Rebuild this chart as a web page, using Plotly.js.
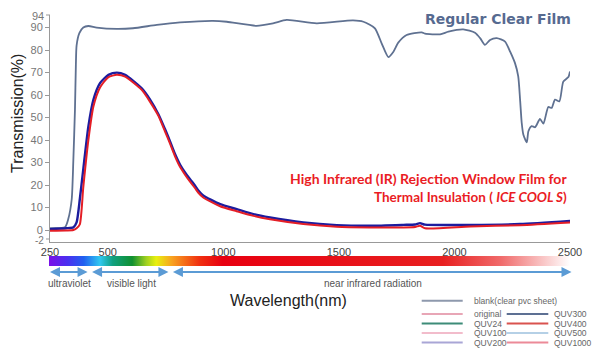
<!DOCTYPE html>
<html><head><meta charset="utf-8">
<script src="https://cdn.plot.ly/plotly-3.0.1.min.js"></script>
<style>html,body{margin:0;padding:0;background:#fff;}#chart{width:600px;height:356px;}</style>
</head><body><div id="chart"></div>
<script>
// ---- data ----
const blankNm = [250,315,329,344,351,358,362,365,377,394,416,452,539,609,712,813,955,1015,1144,1215,1274,1404,1561,1606,1656,1685,1714,1736,1757,1793,1858,1873,1938,1974,2038,2089,2111,2132,2154,2183,2219,2241,2262,2276,2284,2291,2298,2313,2320,2334,2349,2370,2385,2406,2421,2435,2454,2471,2493,2500];
const blankT = [0.9,1.3,4.9,13.7,31,53.5,73.5,82,87.5,90,90.7,90,89.4,89.7,91.2,92.3,93,92.6,90.8,91.9,93.4,91.9,93.2,92.6,89.7,83,76.9,79.3,83.3,86.7,87.9,87.3,87,88.2,89.2,87.7,85.3,82.3,84.5,85.3,83.8,79.3,74.2,68.3,58,47.7,42.5,39,43.9,46.2,45.7,49.4,47.3,54.7,54.3,58,57.2,66,68,70.5];

const filmNm = [250,320,351,365,379,394,416,438,467,503,539,575,647,683,719,747,769,790,813,835,856,877,892,913,986,1058,1130,1202,1346,1491,1635,1779,1830,1851,1873,2068,2284,2500];
const filmBlueT = [0.4,0.8,1.2,3.4,13.7,27,46,58,65.4,69,70,69,63,58,51.5,45,39.5,34,29,25.5,22.6,19.8,17.6,15.4,11.5,9.3,7.1,5.6,3.4,2.2,1.9,2.3,2.5,3.1,2.4,2.3,2.7,4.1];
const filmRedT = [-0.3,-0.2,0,0.8,2.5,19,40,55,63.5,68,69,68.2,62.3,57,50.8,44,38.5,33,28,24.5,21.5,18.7,16.6,14.5,10.6,8.4,6.3,4.8,2.7,1.5,1.2,1.2,1.4,1.9,0.8,1.6,2.2,3.4];

const xTickVals = [250, 500, 1000, 1500, 2000, 2500];
const yTickVals = [0, 10, 20, 30, 40, 50, 60, 70, 80, 90];
const yEndLabels = ['94', '-2'];

const specNm = [250, 330, 400, 470, 525, 609, 670, 713, 783, 900, 1000, 1950, 2200, 2500];
const specColors = ['#7a10e8','#4a30f0','#2060f0','#30c8f0','#10a080','#109030','#a0d020','#e8f010','#f8a020','#f03010','#e80010','#e82020','#f06a6a','#ffffff'];

const bandStart = [250, 432, 782];
const bandEnd = [419, 769, 2513];
const bandLabels = ['ultraviolet', 'visible light', 'near infrared radiation'];

const legendNames = ['blank(clear pvc sheet)','original','QUV24','QUV100','QUV200','QUV300','QUV400','QUV500','QUV1000'];
const legendColors = ['#8e99ad','#e8a6b6','#3d8c78','#f2bccb','#a9a6d6','#5d7093','#d9534f','#b5d0e6','#ec8a98'];

// ---- layout helpers ----
const W = 600, H = 356, M = {l: 50, r: 30, t: 15, b: 114};
const PW = W - M.l - M.r, PH = H - M.t - M.b;
const px = v => (v - M.l) / PW;
const py = v => (M.t + PH - v) / PH;
const FONT = 'Liberation Sans, Arial, sans-serif';

const traces = [
  {x: blankNm, y: blankT, type: 'scatter', mode: 'lines', line: {color: '#5f7191', width: 1.8, shape: 'spline', smoothing: 0.6}, showlegend: false, hoverinfo: 'skip'},
  {x: filmNm, y: filmBlueT, type: 'scatter', mode: 'lines', line: {color: '#1c1c9e', width: 2.4, shape: 'spline', smoothing: 0.6}, showlegend: false, hoverinfo: 'skip'},
  {x: filmNm, y: filmRedT, type: 'scatter', mode: 'lines', line: {color: '#e41e26', width: 2, shape: 'spline', smoothing: 0.6}, showlegend: false, hoverinfo: 'skip'}
];

const annotations = [];
const shapes = [];

// end tick labels of the y axis (placed like the reference)
[[16, yEndLabels[0], 11], [240, yEndLabels[1], 10]].forEach(([yy, t, fs]) => {
  annotations.push({xref: 'paper', yref: 'paper', x: px(45), y: py(yy), text: t, showarrow: false, borderpad: 0,
    xanchor: 'right', yanchor: 'middle', font: {family: FONT, size: fs, color: '#777'}});
  shapes.push({type: 'line', xref: 'paper', yref: 'paper', x0: px(46), x1: px(50), y0: py(yy - 1), y1: py(yy - 1), line: {color: '#999', width: 1}});
});

// titles
annotations.push({xref: 'paper', yref: 'paper', x: px(18), y: py(114), text: 'Transmission(%)', textangle: -90, showarrow: false,
  xanchor: 'center', yanchor: 'middle', font: {family: FONT, size: 16, color: '#222'}});
annotations.push({xref: 'paper', yref: 'paper', x: px(288), y: py(300), text: 'Wavelength(nm)', showarrow: false,
  xanchor: 'center', yanchor: 'middle', font: {family: FONT, size: 16, color: '#222'}});
annotations.push({xref: 'paper', yref: 'paper', x: px(573), y: py(19), text: '<b>Regular Clear Film</b>', showarrow: false,
  xanchor: 'right', yanchor: 'middle', font: {family: 'DejaVu Sans, sans-serif', size: 14, color: '#566a90'}});
annotations.push({xref: 'paper', yref: 'paper', x: px(569), y: py(178), text: '<b>High Infrared (IR) Rejection Window Film for</b>', showarrow: false,
  xanchor: 'right', yanchor: 'middle', font: {family: 'Lato, sans-serif', size: 14, color: '#ea1c24'}});
annotations.push({xref: 'paper', yref: 'paper', x: px(569), y: py(197), text: '<b>Thermal Insulation ( <i>ICE COOL S</i>)</b>', showarrow: false,
  xanchor: 'right', yanchor: 'middle', font: {family: 'Lato, sans-serif', size: 13.5, color: '#ea1c24'}});

// wavelength band arrows and labels
bandStart.forEach((s, i) => {
  annotations.push({xref: 'x', yref: 'paper', x: s, y: py(272), axref: 'x', ayref: 'paper', ax: bandEnd[i], ay: py(272),
    text: '', showarrow: true, arrowside: 'end+start', arrowhead: 2, startarrowhead: 2, arrowsize: 1, startarrowsize: 1,
    arrowwidth: 2, arrowcolor: '#5b9bd5', standoff: 0, startstandoff: 0});
  annotations.push({xref: 'x', yref: 'paper', x: (s + bandEnd[i]) / 2, y: py(283), text: bandLabels[i], showarrow: false,
    xanchor: 'center', yanchor: 'middle', font: {family: FONT, size: 10, color: '#555'}});
});

// manual legend
const rowsY = [314, 323.5, 333, 342.5];
legendNames.forEach((name, i) => {
  let x0, x1, tx, yy;
  if (i === 0) { x0 = 421.7; x1 = 462.7; tx = 471.5; yy = 300.7; }
  else if (i <= 4) { x0 = 421.7; x1 = 462.7; tx = 471.5; yy = rowsY[i - 1]; }
  else { x0 = 506.7; x1 = 548.3; tx = 552; yy = rowsY[i - 5]; }
  shapes.push({type: 'line', xref: 'paper', yref: 'paper', x0: px(x0), x1: px(x1), y0: py(yy), y1: py(yy),
    line: {color: legendColors[i], width: 2}});
  annotations.push({xref: 'paper', yref: 'paper', x: px(tx), y: py(yy), text: name, showarrow: false,
    xanchor: 'left', yanchor: 'middle', font: {family: FONT, size: 8.5, color: '#666'}});
});

// spectrum colour bar (gradient image spanning the wavelength axis)
const stops = specNm.map((v, i) => `<stop offset="${((v - 250) / 2250 * 100).toFixed(2)}%" stop-color="${specColors[i]}"/>`).join('');
const svg = `<svg xmlns="http://www.w3.org/2000/svg" width="520" height="10" viewBox="0 0 520 10" preserveAspectRatio="none"><defs><linearGradient id="g" x1="0" y1="0" x2="1" y2="0">${stops}</linearGradient></defs><rect x="0" y="0" width="520" height="10" fill="url(#g)"/></svg>`;
const images = [{source: 'data:image/svg+xml;charset=utf-8,' + encodeURIComponent(svg), xref: 'paper', yref: 'paper',
  x: px(49), y: py(256), sizex: px(570) - px(49), sizey: 10 / PH, sizing: 'stretch', xanchor: 'left', yanchor: 'top', layer: 'above'}];

const layout = {
  width: W, height: H, margin: M, paper_bgcolor: '#fff', plot_bgcolor: '#fff', showlegend: false,
  font: {family: FONT, color: '#555'},
  xaxis: {range: [250, 2500], tickvals: xTickVals, ticktext: xTickVals.map(String), showgrid: false, zeroline: false,
    showline: true, linecolor: '#999', linewidth: 1, ticks: '', tickfont: {family: FONT, size: 11, color: '#444'}, fixedrange: true},
  yaxis: {range: [-5.3, 95.6], tickvals: yTickVals, ticktext: yTickVals.map(String), showgrid: false, zeroline: false,
    showline: true, linecolor: '#999', linewidth: 1, ticks: 'outside', ticklen: 4, tickcolor: '#999',
    tickfont: {family: FONT, size: 11, color: '#777'}, fixedrange: true},
  annotations: annotations, shapes: shapes, images: images
};

Plotly.newPlot('chart', traces, layout, {displayModeBar: false, staticPlot: true});
</script></body></html>
